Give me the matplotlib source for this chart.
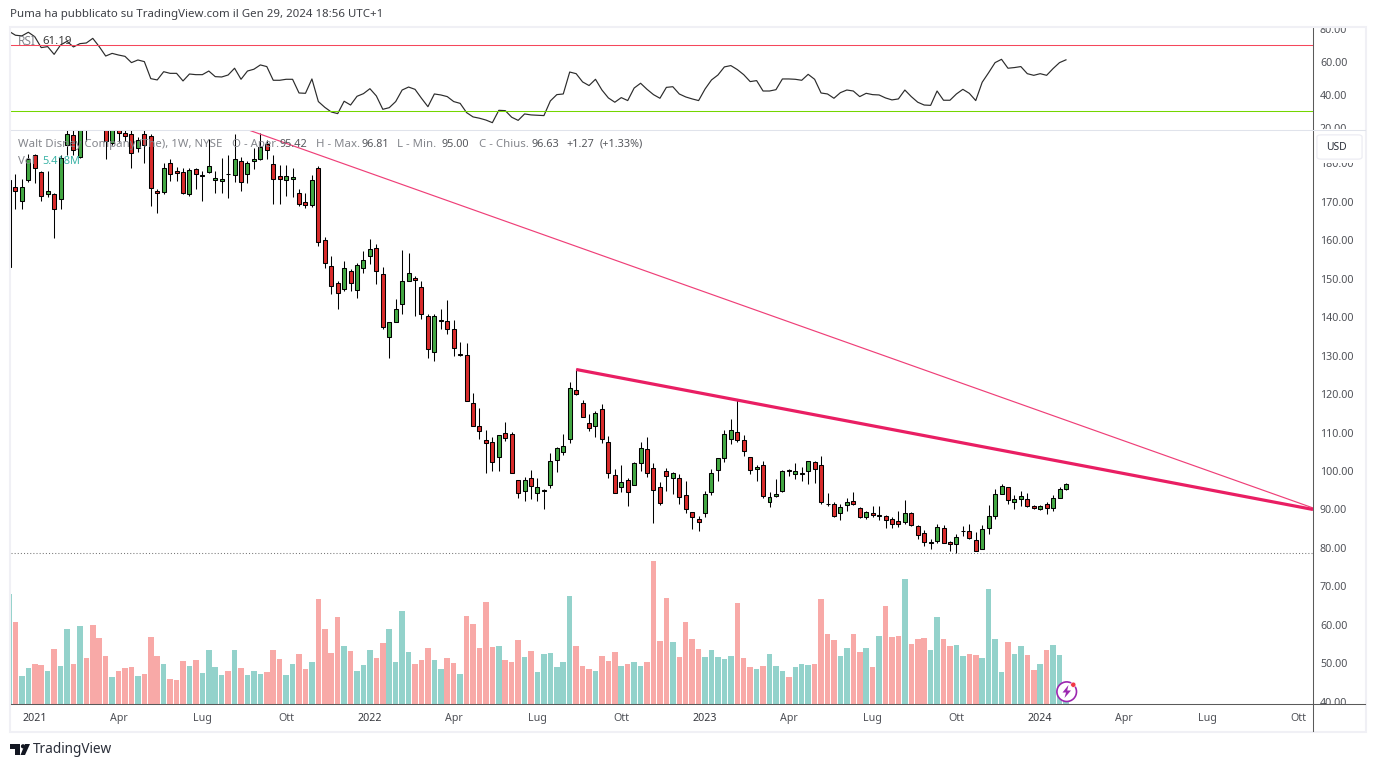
import numpy as np
import matplotlib
matplotlib.use('Agg')
import matplotlib.pyplot as plt
from matplotlib.patches import Rectangle, FancyBboxPatch, Circle, Polygon
from matplotlib.lines import Line2D
from matplotlib.transforms import Bbox

W, H = 1375, 767

# weekly DIS candles, 165 weeks
open_prices = [
    153.1,173.8,170.2,175.6,182.1,177.7,172.0,172.0,170.6,184.8,
    187.4,181.6,191.0,199.0,195.0,189.7,185.2,189.2,187.8,187.6,
    183.9,187.6,187.1,172.8,172.5,180.0,178.0,177.7,172.0,178.5,
    176.7,177.7,175.6,175.5,177.3,176.9,180.6,177.2,180.6,181.1,
    185.0,179.8,176.7,175.6,175.9,172.2,169.9,169.1,178.7,160.0,
    153.3,148.8,147.3,152.0,147.0,152.7,155.8,157.9,151.2,134.8,
    138.7,143.4,149.4,150.1,147.8,140.3,130.9,139.1,139.0,136.9,
    130.2,130.1,117.6,111.7,108.0,107.5,103.6,109.8,109.6,97.6,
    94.8,98.1,94.2,94.9,96.3,102.8,104.9,108.3,121.0,117.6,
    112.4,111.7,116.1,107.5,98.9,95.8,97.6,96.3,102.0,105.7,
    100.7,95.8,100.0,98.1,98.1,93.7,89.3,87.5,89.0,94.5,
    100.2,103.3,108.3,110.1,108.0,103.6,100.6,101.5,91.9,93.5,
    94.8,100.3,99.2,99.3,100.0,102.3,101.5,91.5,91.4,89.0,
    91.1,92.2,90.3,88.0,89.0,88.2,88.3,87.5,87.0,86.7,
    89.0,85.7,83.8,81.3,81.8,85.1,81.5,81.0,84.3,84.4,
    82.0,79.7,85.1,88.3,94.0,95.8,91.9,92.7,92.7,90.9,
    90.1,91.4,90.3,92.9,95.42]
high_prices = [
    176.7,177.3,175.9,182.5,182.5,178.1,178.0,172.3,182.2,188.7,
    188.7,192.0,192.0,202.0,197.0,192.0,192.0,191.0,189.2,188.7,
    186.9,189.2,187.7,173.4,180.0,181.2,179.0,178.8,178.7,178.9,
    177.9,186.3,178.0,181.3,182.2,187.6,181.7,180.5,183.9,187.8,
    186.1,182.2,179.6,179.6,178.9,173.4,172.2,177.0,179.3,160.8,
    155.9,149.4,154.6,152.6,154.0,157.2,160.4,159.1,153.1,138.7,
    144.7,157.5,156.7,150.7,149.4,140.8,140.8,142.2,144.4,139.2,
    133.6,133.3,120.2,116.3,110.6,108.8,109.3,112.7,110.1,97.6,
    98.4,100.2,98.1,95.4,104.6,106.2,109.6,123.1,126.5,118.4,
    114.8,115.6,117.4,109.1,100.5,101.6,98.1,102.3,107.6,108.8,
    102.0,97.1,100.7,99.7,99.2,97.4,89.3,88.3,94.8,100.5,
    103.5,110.6,113.5,118.4,109.3,103.6,101.6,102.6,94.5,98.0,
    100.2,100.6,102.0,101.0,102.6,102.6,103.9,94.2,91.9,91.4,
    92.9,94.5,90.6,89.6,90.9,90.9,88.5,88.0,89.6,92.4,
    89.3,85.9,84.6,82.3,86.2,85.9,81.8,83.6,85.7,86.2,
    84.1,85.9,91.1,95.3,96.6,95.8,93.7,94.8,94.2,91.1,
    91.1,91.9,93.7,95.8,96.81]
low_prices = [
    152.3,168.1,168.2,175.2,175.0,170.2,171.3,160.7,168.2,182.2,
    182.2,181.4,185.7,191.0,189.5,181.2,184.8,185.6,185.8,178.9,
    183.0,180.0,169.0,167.2,172.0,175.4,175.3,172.1,171.4,173.4,
    170.1,177.5,172.4,172.4,171.0,175.2,172.7,175.0,178.6,180.9,
    181.1,169.3,169.3,171.5,171.2,168.8,168.3,168.6,158.4,152.9,
    145.9,142.2,146.7,146.7,145.1,151.6,153.7,148.5,136.8,129.5,
    138.7,140.9,149.4,140.2,139.6,129.5,128.5,137.0,135.7,130.0,
    130.0,118.2,111.6,108.4,99.6,100.1,100.1,107.9,99.4,93.1,
    92.1,92.6,92.3,90.2,95.5,99.7,104.1,107.2,119.7,114.0,
    110.4,108.8,107.2,98.1,94.2,94.5,90.8,96.3,100.1,98.4,
    86.4,91.1,94.7,94.0,91.4,89.0,84.9,84.3,88.0,93.8,
    97.3,102.3,106.9,107.5,104.0,99.1,97.5,92.9,90.6,93.2,
    94.5,98.6,97.9,97.5,96.5,96.8,91.4,90.8,88.0,87.2,
    89.6,91.1,87.7,87.5,88.0,87.2,85.3,85.3,85.4,86.2,
    85.7,82.3,80.6,79.8,81.2,81.2,79.3,78.8,83.2,82.4,
    79.2,79.7,83.7,87.5,94.0,91.5,90.1,90.8,90.7,90.1,
    89.8,88.8,89.5,92.9,95.0]
close_prices = [
    175.7,172.7,173.8,181.1,178.7,171.5,172.8,168.1,181.4,187.6,
    183.5,190.5,189.0,195.0,191.0,185.9,190.0,187.8,187.2,182.8,
    186.1,184.7,173.5,172.2,178.7,177.3,177.4,172.4,178.2,177.2,
    177.0,179.3,176.1,175.9,177.1,181.1,175.1,180.0,181.1,184.2,
    183.4,175.9,175.9,176.7,176.4,169.4,169.1,175.6,159.5,154.0,
    148.1,146.2,152.7,148.8,153.5,154.8,157.7,152.0,137.4,138.7,
    142.1,149.4,151.4,149.6,140.8,131.7,140.3,139.3,136.9,131.9,
    130.5,118.2,111.7,110.4,107.2,102.3,109.3,108.5,99.4,94.2,
    97.6,96.1,95.8,95.1,102.6,105.9,106.5,121.5,120.0,114.0,
    111.1,115.0,108.3,99.4,94.2,97.1,94.5,102.0,105.9,99.4,
    95.0,91.6,98.8,99.4,93.2,90.1,88.0,86.7,94.0,99.4,
    103.3,109.6,110.6,108.0,105.2,100.2,101.1,93.5,93.2,94.0,
    100.0,100.1,100.0,99.5,102.6,100.5,91.9,91.3,88.3,90.6,
    91.9,91.4,88.0,89.3,88.5,88.5,87.2,86.2,86.2,89.0,
    85.9,83.3,81.5,81.6,85.4,81.2,81.0,82.8,84.4,82.5,
    79.2,84.9,88.3,94.0,96.1,92.4,92.7,93.5,90.9,90.3,
    90.9,90.3,92.9,95.3,96.63]

# weekly volume in millions of shares
volumes = [
    139.0,103.7,35.7,45.8,50.8,49.6,42.0,69.7,48.3,94.9,
    50.8,98.7,58.4,100.0,83.6,60.9,34.4,42.0,45.8,47.0,
    35.7,38.2,84.8,60.9,50.8,31.9,30.7,54.6,48.3,55.9,
    39.5,68.5,47.0,37.0,42.0,68.5,45.8,37.0,42.0,38.2,
    40.7,68.5,57.1,37.0,50.8,63.4,44.5,53.3,132.7,94.9,
    64.7,110.0,73.5,67.2,42.0,49.6,68.5,58.4,77.3,94.9,
    53.3,117.6,65.9,50.8,55.9,71.0,55.9,44.5,58.4,52.1,
    38.2,111.3,101.2,71.0,128.9,72.2,73.5,55.9,53.3,81.1,
    59.6,67.2,40.7,63.4,64.7,47.0,53.3,136.5,73.5,48.3,
    44.5,42.0,60.9,54.6,65.9,48.3,50.8,53.3,48.3,53.3,
    180.6,79.8,134.0,78.5,59.6,103.7,82.3,69.7,59.6,68.5,
    59.6,57.1,60.9,127.7,58.4,47.0,44.5,48.3,63.4,48.3,
    42.0,34.4,47.0,50.8,49.6,50.8,132.7,88.6,81.1,60.9,
    71.0,88.6,65.9,71.0,47.0,86.1,123.9,84.8,86.1,157.9,
    76.0,82.3,83.6,68.5,110.0,82.3,73.5,74.8,60.9,63.4,
    62.2,58.4,145.3,82.3,40.7,78.5,63.4,73.5,62.2,43.3,
    50.8,68.5,74.8,62.2,5.418]

rsi_values = [
    78.5,76.1,75.7,77.9,75.2,68.6,69.2,64.5,70.2,72.4,
    69.0,71.0,71.4,74.2,69.2,63.5,65.1,64.1,63.3,59.5,
    61.1,60.1,49.8,49.0,54.0,53.0,53.0,48.4,52.6,52.2,
    52.2,54.4,51.0,50.8,52.0,56.1,49.4,54.4,55.5,58.1,
    57.1,48.8,48.8,49.4,49.4,41.1,40.9,49.6,35.9,32.4,
    29.6,28.6,36.1,33.8,39.1,40.7,43.7,39.3,31.2,32.2,
    35.9,42.9,44.7,43.3,37.9,32.8,40.5,39.9,38.9,35.9,
    34.8,29.2,26.6,25.8,24.7,23.1,30.6,30.4,26.4,24.5,
    28.4,27.8,27.6,27.4,36.3,40.1,40.5,53.8,52.8,47.8,
    45.6,49.4,42.9,38.1,35.5,38.3,36.5,44.1,47.0,43.3,
    40.1,37.9,44.5,44.9,40.5,38.7,37.5,36.5,43.5,49.0,
    52.0,56.9,57.7,55.3,52.2,48.0,48.6,42.3,42.3,43.1,
    49.6,49.6,49.4,48.8,52.4,49.4,41.1,40.5,37.9,41.3,
    42.9,42.3,38.9,40.9,40.1,39.9,38.1,36.9,37.5,42.9,
    38.9,35.5,33.8,33.6,42.3,36.7,36.7,40.5,43.3,40.9,
    36.5,47.6,53.4,59.5,61.5,56.1,56.5,57.1,52.8,51.8,
    52.8,51.8,55.9,59.5,61.19]

x_tick_pos = [4, 17, 30, 43, 56, 69, 82, 95, 108, 121, 134, 147, 160, 173, 186, 200]
x_tick_labels = ['2021', 'Apr', 'Lug', 'Ott', '2022', 'Apr', 'Lug', 'Ott', '2023',
                 'Apr', 'Lug', 'Ott', '2024', 'Apr', 'Lug', 'Ott']
price_ticks = list(range(40, 190, 10))
rsi_ticks = [20, 40, 60, 80]

steep_line = ([37.1, 202.33], [188.7, 90.4])
flat_line = ([88, 202.33], [126.4, 90.0])
low_52w = 78.73

FONT = 'Noto Sans'
TXT = '#4f5157'
TICK_SIZE = 7.7
plt.rcParams['font.family'] = [FONT, 'DejaVu Sans']
plt.rcParams['font.size'] = TICK_SIZE


def fx(x):
    return x / W


def fy(y):
    return 1 - y / H


def pane(left, top, right, bottom):
    return fig.add_axes([fx(left), fy(bottom), fx(right - left), (bottom - top) / H])


fig = plt.figure(figsize=(W / 100, H / 100), dpi=100, facecolor='white')

# outer frame of the widget
fig.add_artist(Rectangle((fx(10), fy(732)), fx(1355.5), (732 - 27) / H, fill=False,
                         edgecolor='#f0f0f5', linewidth=1.5, transform=fig.transFigure))

idx = np.arange(len(close_prices))
xlim = (0.31, 202.33)

# price pane, volume sits on a twin axis underneath
ax = pane(11, 129.8, 1313, 704.3)
ax_vol = ax.twinx()
ax.set_zorder(ax_vol.get_zorder() + 1)
ax.patch.set_visible(False)

opens = np.array(open_prices)
closes = np.array(close_prices)
up = closes >= opens

ax_vol.bar(idx, volumes, width=0.86, color=np.where(up, '#93d2cb', '#f8a9a7'), linewidth=0)
ax_vol.set_ylim(0, 723.6)
ax_vol.set_yticks([])

ax.vlines(idx, low_prices, high_prices, color='black', linewidth=0.75, zorder=2)
ax.bar(idx, np.abs(closes - opens), bottom=np.minimum(opens, closes), width=0.62,
       color=np.where(up, '#43a843', '#d92b2b'), edgecolor='black', linewidth=0.75, zorder=3)

ax.plot(*steep_line, color='#ef3f78', linewidth=0.85, zorder=4)
ax.plot(*flat_line, color='#e91e63', linewidth=2.3, solid_capstyle='butt', zorder=4)
ax.axhline(low_52w, color='#777777', linewidth=0.75, linestyle=(0, (1, 2)), zorder=1)

ax.set_xlim(xlim)
ax.set_ylim(39.35, 188.71)
ax.set_yticks(price_ticks)
ax.set_yticklabels(['%.2f' % p for p in price_ticks])
ax.yaxis.tick_right()
ax.set_xticks(x_tick_pos)
ax.set_xticklabels(x_tick_labels)
ax.tick_params(axis='both', length=0, colors=TXT, labelsize=TICK_SIZE)
ax.tick_params(axis='y', pad=5)
ax.tick_params(axis='x', pad=6)
for lab, txt in zip(ax.get_xticklabels(), x_tick_labels):
    if txt.isdigit():
        lab.set_color('#36383e')

for name in ['top', 'left', 'right', 'bottom']:
    ax_vol.spines[name].set_visible(False)
    ax.spines[name].set_visible(False)
ax.spines['right'].set_visible(True)
ax.spines['right'].set_color('#5a5a5a')
ax.spines['right'].set_linewidth(0.75)
ax.spines['bottom'].set_visible(True)
ax.spines['bottom'].set_color('#5a5a5a')
ax.spines['bottom'].set_linewidth(0.75)

# rsi pane
ax_rsi = pane(11, 28, 1313, 129.3)
ax_rsi.plot(idx, rsi_values, color='#2b2b2b', linewidth=0.85)
ax_rsi.axhline(70, color='#f5475c', linewidth=0.75)
ax_rsi.axhline(30, color='#74d600', linewidth=0.75)
ax_rsi.set_xlim(xlim)
ax_rsi.set_ylim(19.09, 80.48)
ax_rsi.set_xticks([])
ax_rsi.set_yticks(rsi_ticks)
ax_rsi.set_yticklabels(['%.2f' % v for v in rsi_ticks])
ax_rsi.yaxis.tick_right()
ax_rsi.tick_params(axis='y', length=0, colors=TXT, labelsize=TICK_SIZE, pad=5)
for name in ['top', 'left', 'bottom']:
    ax_rsi.spines[name].set_visible(False)
ax_rsi.spines['right'].set_color('#5a5a5a')
ax_rsi.spines['right'].set_linewidth(0.75)

# scale labels stop at the pane borders
rsi_box = Bbox([[1314, H - 129.3], [1364, H - 28]])
for lab in ax_rsi.get_yticklabels():
    lab.set_clip_box(rsi_box)
    lab.set_clip_on(True)
price_box = Bbox([[1314, H - 704.3], [1364, H - 130.5]])
for lab in ax.get_yticklabels():
    lab.set_clip_box(price_box)
    lab.set_clip_on(True)

# lines finishing the frame past the scale
fig.add_artist(Line2D([fx(11), fx(1365)], [fy(129.5), fy(129.5)], color='#e0e3eb', linewidth=0.75))
fig.add_artist(Line2D([fx(1313), fx(1365)], [fy(704.3), fy(704.3)], color='#5a5a5a', linewidth=0.75))
fig.add_artist(Line2D([fx(1313), fx(1313)], [fy(704.3), fy(731)], color='#5a5a5a', linewidth=0.75))

# currency button
fig.add_artist(Rectangle((fx(1315), fy(163)), fx(48), 30 / H, facecolor='white', edgecolor='none',
                         transform=fig.transFigure, zorder=5))
fig.add_artist(FancyBboxPatch((fx(1319), fy(158)), fx(41), 22 / H,
                              boxstyle='round,pad=0.0015,rounding_size=0.003', facecolor='white',
                              edgecolor='#eeeef4', linewidth=1.0, transform=fig.transFigure, zorder=6))
fig.text(fx(1336), fy(147), 'USD', color='#2a2e39', fontsize=7.4, ha='center', va='center', zorder=7)


def label(x, y, s, color=TXT, size=8.2, **kw):
    fig.text(fx(x), fy(y), s, color=color, ha='left', va='center', zorder=8, fontsize=size, **kw)


LIGHT = '#84868c'
VALUE = '#55575c'
label(10, 14.5, 'Puma ha pubblicato su TradingView.com il Gen 29, 2024 18:56 UTC+1', color='#3f4147', size=8.24)
label(18, 41.5, 'RSI', color=LIGHT, size=8.6)
label(42, 41.5, '61.19', color='#3a3a3a')
label(18, 144.5, 'Walt Disney Company (The), 1W, NYSE', color=LIGHT)
label(232, 144.5, 'O - Aper.', color=LIGHT)
label(279.5, 144.5, '95.42', color=VALUE, size=7.8)
label(316, 144.5, 'H - Max.', color=LIGHT)
label(362, 144.5, '96.81', color=VALUE, size=7.8)
label(397, 144.5, 'L - Min.', color=LIGHT)
label(442, 144.5, '95.00', color=VALUE, size=7.8)
label(479, 144.5, 'C - Chius.', color=LIGHT)
label(531, 144.5, '96.63', color=VALUE, size=7.8)
label(566.5, 144.5, '+1.27', color=VALUE, size=7.8)
label(600, 144.5, '(+1.33%)', color=VALUE, size=7.8)
label(18, 161.5, 'Vol', color=LIGHT)
label(42, 161.5, '5.418M', color='#3bb3a6', size=7.9)

# alert badge on the last bar
fig.add_artist(Circle((1066.7, H - 691.7), 9.8, facecolor='white', edgecolor='#9c27b0', linewidth=1.2,
                      transform=None, zorder=8))
fig.add_artist(Polygon([(1068.5, H - 685), (1062.5, H - 692.5), (1066, H - 692.5), (1064.5, H - 698),
                        (1071, H - 690.5), (1067.2, H - 690.5)], closed=True, facecolor='#9c27b0',
                       edgecolor='none', transform=None, zorder=9))
fig.add_artist(Circle((1073.3, H - 684.7), 2.6, facecolor='#f23645', edgecolor='white', linewidth=0.4,
                      transform=None, zorder=10))

# logo mark and name
logo = '#131722'
fig.add_artist(Polygon([(10, H - 744), (20, H - 744), (20, H - 755), (15, H - 755), (15, H - 749), (10, H - 749)],
                       closed=True, facecolor=logo, edgecolor='none', transform=None))
fig.add_artist(Circle((23, H - 746.3), 2.1, facecolor=logo, edgecolor='none', transform=None))
fig.add_artist(Polygon([(25, H - 744), (30, H - 744), (25, H - 755), (20.5, H - 755)],
                       closed=True, facecolor=logo, edgecolor='none', transform=None))
label(33, 749.5, 'TradingView', color='#2a2e39', size=9.8)

fig.savefig('out.png', dpi=100)
